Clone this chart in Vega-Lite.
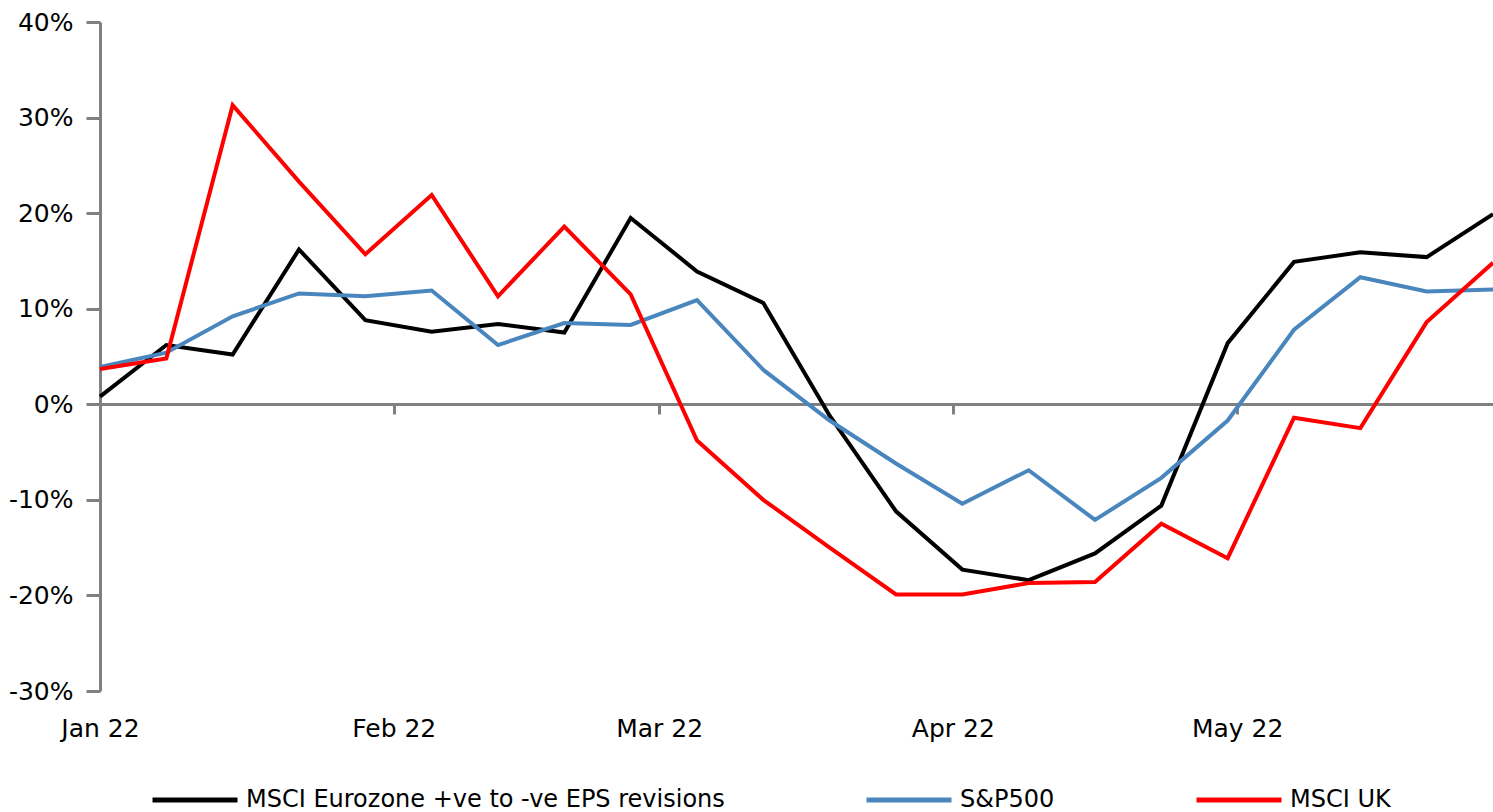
{
  "$schema": "https://vega.github.io/schema/vega-lite/v6.json",
  "autosize": "none",
  "width": 1393,
  "height": 669,
  "padding": {"left": 100, "top": 22, "right": 0, "bottom": 121},
  "background": "white",
  "config": {
    "view": {"stroke": null},
    "font": "DejaVu Sans"
  },
  "data": {
    "values": [
      {"date": "2022-01-01", "series": "MSCI Eurozone +ve to -ve EPS revisions", "value": 0.8},
      {"date": "2022-01-08", "series": "MSCI Eurozone +ve to -ve EPS revisions", "value": 6.2},
      {"date": "2022-01-15", "series": "MSCI Eurozone +ve to -ve EPS revisions", "value": 5.2},
      {"date": "2022-01-22", "series": "MSCI Eurozone +ve to -ve EPS revisions", "value": 16.2},
      {"date": "2022-01-29", "series": "MSCI Eurozone +ve to -ve EPS revisions", "value": 8.8},
      {"date": "2022-02-05", "series": "MSCI Eurozone +ve to -ve EPS revisions", "value": 7.6},
      {"date": "2022-02-12", "series": "MSCI Eurozone +ve to -ve EPS revisions", "value": 8.4},
      {"date": "2022-02-19", "series": "MSCI Eurozone +ve to -ve EPS revisions", "value": 7.5},
      {"date": "2022-02-26", "series": "MSCI Eurozone +ve to -ve EPS revisions", "value": 19.5},
      {"date": "2022-03-05", "series": "MSCI Eurozone +ve to -ve EPS revisions", "value": 13.9},
      {"date": "2022-03-12", "series": "MSCI Eurozone +ve to -ve EPS revisions", "value": 10.6},
      {"date": "2022-03-19", "series": "MSCI Eurozone +ve to -ve EPS revisions", "value": -1.2},
      {"date": "2022-03-26", "series": "MSCI Eurozone +ve to -ve EPS revisions", "value": -11.2},
      {"date": "2022-04-02", "series": "MSCI Eurozone +ve to -ve EPS revisions", "value": -17.3},
      {"date": "2022-04-09", "series": "MSCI Eurozone +ve to -ve EPS revisions", "value": -18.4},
      {"date": "2022-04-16", "series": "MSCI Eurozone +ve to -ve EPS revisions", "value": -15.6},
      {"date": "2022-04-23", "series": "MSCI Eurozone +ve to -ve EPS revisions", "value": -10.6},
      {"date": "2022-04-30", "series": "MSCI Eurozone +ve to -ve EPS revisions", "value": 6.4},
      {"date": "2022-05-07", "series": "MSCI Eurozone +ve to -ve EPS revisions", "value": 14.9},
      {"date": "2022-05-14", "series": "MSCI Eurozone +ve to -ve EPS revisions", "value": 15.9},
      {"date": "2022-05-21", "series": "MSCI Eurozone +ve to -ve EPS revisions", "value": 15.4},
      {"date": "2022-05-28", "series": "MSCI Eurozone +ve to -ve EPS revisions", "value": 19.9},
      {"date": "2022-01-01", "series": "S&P500", "value": 3.9},
      {"date": "2022-01-08", "series": "S&P500", "value": 5.4},
      {"date": "2022-01-15", "series": "S&P500", "value": 9.2},
      {"date": "2022-01-22", "series": "S&P500", "value": 11.6},
      {"date": "2022-01-29", "series": "S&P500", "value": 11.3},
      {"date": "2022-02-05", "series": "S&P500", "value": 11.9},
      {"date": "2022-02-12", "series": "S&P500", "value": 6.2},
      {"date": "2022-02-19", "series": "S&P500", "value": 8.5},
      {"date": "2022-02-26", "series": "S&P500", "value": 8.3},
      {"date": "2022-03-05", "series": "S&P500", "value": 10.9},
      {"date": "2022-03-12", "series": "S&P500", "value": 3.6},
      {"date": "2022-03-19", "series": "S&P500", "value": -1.7},
      {"date": "2022-03-26", "series": "S&P500", "value": -6.2},
      {"date": "2022-04-02", "series": "S&P500", "value": -10.4},
      {"date": "2022-04-09", "series": "S&P500", "value": -6.9},
      {"date": "2022-04-16", "series": "S&P500", "value": -12.1},
      {"date": "2022-04-23", "series": "S&P500", "value": -7.7},
      {"date": "2022-04-30", "series": "S&P500", "value": -1.7},
      {"date": "2022-05-07", "series": "S&P500", "value": 7.8},
      {"date": "2022-05-14", "series": "S&P500", "value": 13.3},
      {"date": "2022-05-21", "series": "S&P500", "value": 11.8},
      {"date": "2022-05-28", "series": "S&P500", "value": 12.0},
      {"date": "2022-01-01", "series": "MSCI UK", "value": 3.7},
      {"date": "2022-01-08", "series": "MSCI UK", "value": 4.8},
      {"date": "2022-01-15", "series": "MSCI UK", "value": 31.3},
      {"date": "2022-01-22", "series": "MSCI UK", "value": 23.3},
      {"date": "2022-01-29", "series": "MSCI UK", "value": 15.7},
      {"date": "2022-02-05", "series": "MSCI UK", "value": 21.9},
      {"date": "2022-02-12", "series": "MSCI UK", "value": 11.3},
      {"date": "2022-02-19", "series": "MSCI UK", "value": 18.6},
      {"date": "2022-02-26", "series": "MSCI UK", "value": 11.5},
      {"date": "2022-03-05", "series": "MSCI UK", "value": -3.8},
      {"date": "2022-03-12", "series": "MSCI UK", "value": -10.0},
      {"date": "2022-03-19", "series": "MSCI UK", "value": -15.0},
      {"date": "2022-03-26", "series": "MSCI UK", "value": -19.9},
      {"date": "2022-04-02", "series": "MSCI UK", "value": -19.9},
      {"date": "2022-04-09", "series": "MSCI UK", "value": -18.7},
      {"date": "2022-04-16", "series": "MSCI UK", "value": -18.6},
      {"date": "2022-04-23", "series": "MSCI UK", "value": -12.5},
      {"date": "2022-04-30", "series": "MSCI UK", "value": -16.1},
      {"date": "2022-05-07", "series": "MSCI UK", "value": -1.4},
      {"date": "2022-05-14", "series": "MSCI UK", "value": -2.5},
      {"date": "2022-05-21", "series": "MSCI UK", "value": 8.6},
      {"date": "2022-05-28", "series": "MSCI UK", "value": 14.8}
    ]
  },
  "mark": {"type": "line", "strokeWidth": 4, "strokeJoin": "miter", "clip": false},
  "encoding": {
    "x": {
      "field": "date",
      "type": "temporal",
      "title": null,
      "scale": {"type": "utc", "domain": [{"year": 2022, "month": 1, "date": 1, "utc": true}, {"year": 2022, "month": 5, "date": 28, "utc": true}], "nice": false},
      "axis": {
        "orient": "bottom",
        "offset": -287,
        "values": [
          {"year": 2022, "month": 1, "date": 1, "utc": true},
          {"year": 2022, "month": 2, "date": 1, "utc": true},
          {"year": 2022, "month": 3, "date": 1, "utc": true},
          {"year": 2022, "month": 4, "date": 1, "utc": true},
          {"year": 2022, "month": 5, "date": 1, "utc": true}
        ],
        "format": "%b %y",
        "grid": false,
        "domainColor": "#808080",
        "domainWidth": 3,
        "tickColor": "#808080",
        "tickWidth": 3,
        "tickSize": 10,
        "labelPadding": 302,
        "labelFont": "DejaVu Sans",
        "labelFontSize": 25,
        "labelColor": "#000000",
        "labelAlign": "center",
        "labelFlush": false,
        "labelBound": false,
        "labelOverlap": false
      }
    },
    "y": {
      "field": "value",
      "type": "quantitative",
      "title": null,
      "scale": {"domain": [-30, 40], "nice": false, "zero": false},
      "axis": {
        "values": [-30, -20, -10, 0, 10, 20, 30, 40],
        "labelExpr": "datum.value + '%'",
        "grid": false,
        "domainColor": "#808080",
        "domainWidth": 3,
        "tickColor": "#808080",
        "tickWidth": 3,
        "tickSize": 14,
        "labelPadding": 13,
        "labelFont": "DejaVu Sans",
        "labelFontSize": 25,
        "labelColor": "#000000",
        "labelOverlap": false,
        "labelBound": false
      }
    },
    "color": {
      "field": "series",
      "type": "nominal",
      "title": null,
      "sort": ["MSCI Eurozone +ve to -ve EPS revisions", "S&P500", "MSCI UK"],
      "scale": {
        "domain": ["MSCI Eurozone +ve to -ve EPS revisions", "S&P500", "MSCI UK"],
        "range": ["#000000", "#4A86BE", "#FF0000"]
      },
      "legend": {
        "orient": "none",
        "direction": "horizontal",
        "legendX": 50,
        "legendY": 733,
        "padding": 0,
        "symbolType": "stroke",
        "symbolSize": 7225,
        "symbolStrokeWidth": 5,
        "labelOffset": 6,
        "columnPadding": 131,
        "labelFont": "DejaVu Sans",
        "labelFontSize": 24,
        "labelColor": "#000000",
        "labelLimit": 1000
      }
    }
  }
}
